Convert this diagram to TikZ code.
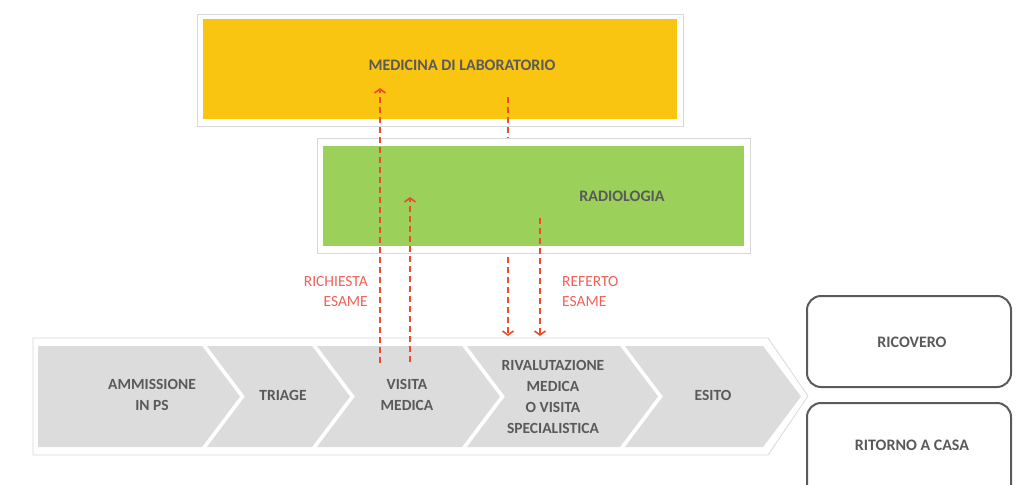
\documentclass[tikz,border=0pt]{standalone}
\usepackage{fontspec}
\setmainfont{Carlito}
\usetikzlibrary{arrows.meta}
\definecolor{labY}{HTML}{F9C511}
\definecolor{radG}{HTML}{9BD05A}
\definecolor{chevG}{HTML}{DCDCDC}
\definecolor{txtG}{HTML}{5A5A5A}
\definecolor{dashR}{HTML}{EE4B2B}
\definecolor{lblR}{HTML}{F06058}
\definecolor{frameG}{HTML}{D8D8D8}
\tikzset{
  boxtxt/.style={font=\fontsize{16}{19}\selectfont\bfseries, text=txtG, align=center, inner sep=0pt},
  chevtxt/.style={font=\fontsize{15.5}{21}\selectfont\bfseries, text=txtG, align=center, inner sep=0pt},
  redlbl/.style={font=\fontsize{15.5}{20}\selectfont, text=lblR, inner sep=0pt},
  reqline/.style={draw=dashR, line width=2.2pt, dash pattern=on 6pt off 4pt, -{Straight Barb[length=4pt,width=11pt,line width=1.6pt]}},
  chev/.style={fill=chevG, draw=none},
  frame/.style={fill=white, draw=frameG, line width=0.8pt},
  endbox/.style={draw=txtG, line width=2pt, rounded corners=14pt, fill=white}
}
\begin{document}
\begin{tikzpicture}[x=1pt,y=-1pt]
\useasboundingbox (0,0) rectangle (1021,485);
\clip (0,0) rectangle (1021,485);
% process strip
\draw[frame] (33,338) -- (768,338) -- (808,396) -- (768,455) -- (33,455) -- cycle;
\fill[chev] (38,346) -- (202,346) -- (240,396.5) -- (202,447) -- (38,447) -- cycle;
\fill[chev] (207,346) -- (312,346) -- (350,396.5) -- (312,447) -- (207,447) -- (245,396.5) -- cycle;
\fill[chev] (317,346) -- (462,346) -- (500,396.5) -- (462,447) -- (317,447) -- (355,396.5) -- cycle;
\fill[chev] (467,346) -- (620,346) -- (658,396.5) -- (620,447) -- (467,447) -- (505,396.5) -- cycle;
\fill[chev] (625,346) -- (763,346) -- (801,396.5) -- (763,447) -- (625,447) -- (663,396.5) -- cycle;
\node[chevtxt] (amm) at (152,395) {AMMISSIONE\\IN PS};
\node[chevtxt] (tri) at (283,395) {TRIAGE};
\node[chevtxt] (vis) at (407,395) {VISITA\\MEDICA};
\node[chevtxt] (riv) at (553,397) {RIVALUTAZIONE\\MEDICA\\O VISITA\\SPECIALISTICA};
\node[chevtxt] (esi) at (713,395) {ESITO};
% outcome boxes
\draw[endbox] (807,296) rectangle (1011,387);
\node[boxtxt] (ric) at (912,342) {RICOVERO};
\draw[endbox] (807,403) rectangle (1011,510);
\node[boxtxt] (rit) at (912,445) {RITORNO A CASA};
% laboratory
\draw[frame] (197,14) rectangle (683,126);
\fill[labY] (203,19) rectangle (677,119);
\node[boxtxt] (lab) at (462,65) {MEDICINA DI LABORATORIO};
% named end points
\coordinate (a0) at (380,363);
\coordinate (a1) at (380,88);
\coordinate (b0) at (410,362);
\coordinate (b1) at (410,197);
\coordinate (c0) at (508,97);
\coordinate (c1) at (508,336);
\coordinate (d0) at (540,218);
\coordinate (d1) at (540,336);
\draw[reqline] (c0) -- (c1);
% radiology
\draw[frame] (317,138) rectangle (750,253);
\fill[radG] (323,146) rectangle (744,246);
\node[boxtxt] (rad) at (622,196) {RADIOLOGIA};
\draw[reqline] (a0) -- (a1);
\draw[reqline] (b0) -- (b1);
\draw[reqline] (d0) -- (d1);
\node[redlbl, align=right, anchor=east] (rich) at (368,292) {RICHIESTA\\ESAME};
\node[redlbl, align=left, anchor=west] (ref) at (562,292) {REFERTO\\ESAME};
\end{tikzpicture}
\end{document}
